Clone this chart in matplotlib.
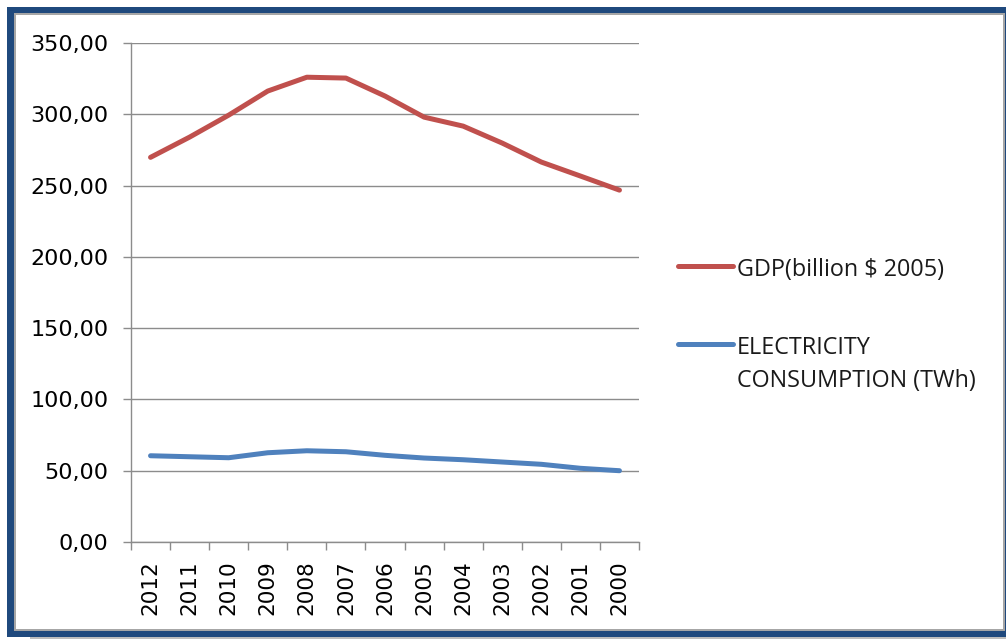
import matplotlib
matplotlib.use("Agg")
import matplotlib.pyplot as plt
from matplotlib.lines import Line2D
from matplotlib.patches import Rectangle
from matplotlib.ticker import FixedLocator, FuncFormatter, MultipleLocator
import numpy as np

# ---- data ----
years = ["2012", "2011", "2010", "2009", "2008", "2007", "2006",
         "2005", "2004", "2003", "2002", "2001", "2000"]
gdp = [269.8, 284.0, 299.4, 316.3, 326.0, 325.4, 312.8,
       298.0, 291.7, 279.8, 266.5, 256.7, 246.8]
electricity = [60.5, 59.8, 59.1, 62.6, 64.0, 63.3, 60.8,
               58.9, 57.7, 56.1, 54.5, 51.7, 50.0]
series_names = ["GDP(billion $ 2005)", "ELECTRICITY\nCONSUMPTION (TWh)"]
series_colors = ["#C0504D", "#4F81BD"]
y_ticks = [0, 50, 100, 150, 200, 250, 300, 350]

W, H = 1006, 639
fig = plt.figure(figsize=(W / 100, H / 100), dpi=100)
fig.patch.set_facecolor("white")


def px_rect(x0, y0, x1, y1, color):
    fig.add_artist(Rectangle((x0 / W, 1 - y1 / H), (x1 - x0) / W, (y1 - y0) / H,
                             transform=fig.transFigure, facecolor=color,
                             edgecolor="none", zorder=-10))


# framed chart area
px_rect(30, 636, 1006, 639, "#BDBDBD")
px_rect(7, 7, 1006, 637, "#1F497D")
px_rect(14, 13, 1005, 631, "#A6A6A6")
px_rect(16, 15, 1003, 629, "white")

ax = fig.add_axes([131 / W, 1 - 542 / H, (639 - 131) / W, (542 - 43) / H])
ax.set_facecolor("none")

x = np.arange(len(years))
for vals, col in zip([gdp, electricity], series_colors):
    ax.plot(x, vals, color=col, lw=3.6, solid_capstyle="round",
            solid_joinstyle="round", zorder=3)

ax.set_xlim(-0.5, len(years) - 0.5)
ax.set_ylim(0, 350)

grid_col = "#8C8C8C"
ax.yaxis.set_major_locator(FixedLocator(y_ticks))
ax.yaxis.set_major_formatter(FuncFormatter(lambda v, p: f"{v:.2f}".replace(".", ",")))
ax.grid(axis="y", color=grid_col, lw=1.0)
ax.set_axisbelow(True)

ax.set_xticks(x)
ax.set_xticklabels(years, rotation=90, fontsize=15.5, family="DejaVu Sans")
ax.tick_params(axis="x", which="major", length=0, pad=13)
ax.xaxis.set_minor_locator(MultipleLocator(1, offset=0.5))
ax.tick_params(axis="x", which="minor", length=5.8, color=grid_col, width=1.0)
ax.tick_params(axis="y", length=5.8, color=grid_col, width=1.0, labelsize=16, pad=10.5)
for lab in ax.get_yticklabels():
    lab.set_family("DejaVu Sans")

for side in ["top", "right"]:
    ax.spines[side].set_visible(False)
for side in ["left", "bottom"]:
    ax.spines[side].set_color(grid_col)
    ax.spines[side].set_linewidth(1.0)

# legend drawn beside the plot
legend_rows = [266, 344]
row_step = 33
for name, col, ry in zip(series_names, series_colors, legend_rows):
    fig.add_artist(Line2D([678 / W, 733 / W], [1 - ry / H, 1 - ry / H],
                          transform=fig.transFigure, color=col, lw=3.6,
                          solid_capstyle="round"))
    for k, part in enumerate(name.split("\n")):
        base = ry + 10 + k * row_step
        fig.text(737 / W, 1 - base / H, part, fontsize=16.8, family="Open Sans",
                 va="baseline", ha="left", color="#1A1A1A")

fig.savefig("out.png", dpi=100)
